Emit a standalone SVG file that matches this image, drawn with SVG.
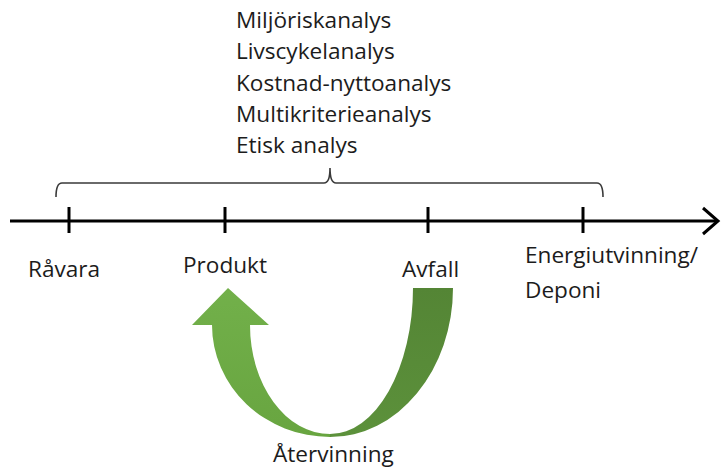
<svg xmlns="http://www.w3.org/2000/svg" width="721" height="472" viewBox="0 0 721 472">
<defs>
<style>
.t{font-family:"Open Sans","Liberation Sans",sans-serif;font-size:22.6px;fill:#1c1c1c}
.ax{stroke:#000;stroke-width:3;fill:none}
.br{stroke:#3a3a3a;stroke-width:1.6;fill:none}
</style>
<linearGradient id="gl" x1="0" y1="0" x2="0" y2="1">
<stop offset="0" stop-color="#72b04a"/>
<stop offset="1" stop-color="#68a540"/>
</linearGradient>
<linearGradient id="gr" x1="0" y1="0" x2="0" y2="1">
<stop offset="0" stop-color="#548535"/>
<stop offset="1" stop-color="#5c913b"/>
</linearGradient>
</defs>
<rect width="721" height="472" fill="#fff"/>
<g id="methods">
<text class="t" x="236" y="28">Miljöriskanalys</text>
<text class="t" x="236" y="59">Livscykelanalys</text>
<text class="t" x="236" y="91">Kostnad-nyttoanalys</text>
<text class="t" x="236" y="122">Multikriterieanalys</text>
<text class="t" x="236" y="153">Etisk analys</text>
</g>
<g id="brace">
<path class="br" d="M56 197 Q56 183 62 183 L324 183 Q330 183 330 168 Q330 183 336 183 L597 183 Q603 183 603 197"/>
</g>
<g id="connectors">
<line class="ax" x1="10" y1="221" x2="718" y2="221"/>
<polyline class="ax" stroke-width="3.5" points="703,208 718,221 703,234"/>
</g>
<g id="ravara">
<line class="ax" x1="69" y1="207" x2="69" y2="233"/>
<text class="t" x="28" y="277">Råvara</text>
</g>
<g id="produkt">
<line class="ax" x1="225" y1="207" x2="225" y2="233"/>
<text class="t" x="183" y="273">Produkt</text>
</g>
<g id="avfall">
<line class="ax" x1="428" y1="207" x2="428" y2="233"/>
<text class="t" x="402" y="277">Avfall</text>
</g>
<g id="energi">
<line class="ax" x1="583" y1="207" x2="583" y2="233"/>
<text class="t" x="525" y="263">Energiutvinning/</text>
<text class="t" x="525" y="298">Deponi</text>
</g>
<g id="atervinning">
<path fill="url(#gr)" d="M453 288 A123 149 0 0 1 330 437 L330 434 A83 146 0 0 0 413 288 Z"/>
<path fill="url(#gl)" d="M330 437 A118 112 0 0 1 212 325 L192 325 L228 288 L269 325 L250 325 A80 109 0 0 0 330 434 Z"/>
<text class="t" x="273" y="462">Återvinning</text>
</g>
</svg>
